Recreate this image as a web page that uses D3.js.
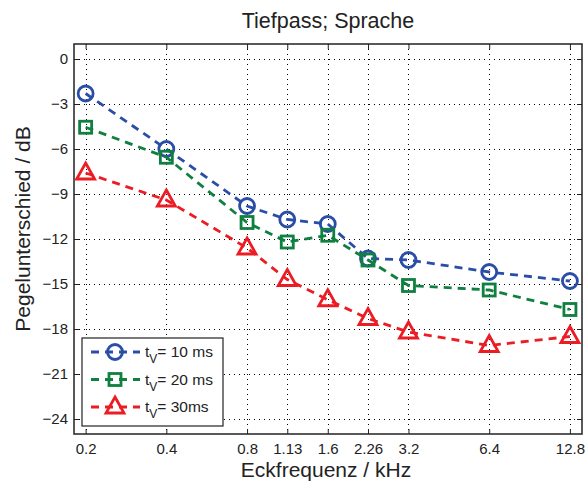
<!DOCTYPE html>
<html lang="de">
<head>
    <meta charset="UTF-8">
    <title>Tiefpass; Sprache</title>
    <script src="https://cdnjs.cloudflare.com/ajax/libs/d3/7.8.5/d3.min.js"></script>
    <style>
        body { margin: 0; background: #fff; }
        text { font-family: "Liberation Sans", Arial, sans-serif; fill: #222; }
    </style>
</head>
<body>
    <script>
        // x values (kHz) and tick labels
        var freqs = [0.2, 0.4, 0.8, 1.13, 1.6, 2.26, 3.2, 6.4, 12.8];
        var freqLabels = ["0.2", "0.4", "0.8", "1.13", "1.6", "2.26", "3.2", "6.4", "12.8"];
        var yTicks = [0, -3, -6, -9, -12, -15, -18, -21, -24];
        // series values in dB
        var t10 = [-2.3, -6.0, -9.8, -10.7, -11.0, -13.3, -13.4, -14.2, -14.8];
        var t20 = [-4.55, -6.55, -10.9, -12.2, -11.75, -13.4, -15.1, -15.4, -16.7];
        var t30 = [-7.6, -9.4, -12.6, -14.7, -16.05, -17.3, -18.2, -19.1, -18.5];
        var seriesNames = ["10 ms", "20 ms", "30ms"];

        var series = [
            {name: seriesNames[0], values: t10, color: "#2a4ea8", marker: "circle"},
            {name: seriesNames[1], values: t20, color: "#0f8040", marker: "square"},
            {name: seriesNames[2], values: t30, color: "#ec1c24", marker: "triangle"}
        ];

        var W = 587, H = 481;
        // plot box (axes area)
        var pLeft = 74, pRight = 582, pTop = 44, pBottom = 434;

        var svg = d3.select("body").append("svg")
            .attr("width", W).attr("height", H);

        var x = d3.scaleLog().domain([0.181, 14.2]).range([pLeft, pRight]);
        var y = d3.scaleLinear().domain([-25, 1]).range([pBottom, pTop]);

        // grid
        var grid = svg.append("g").attr("stroke", "#000").attr("stroke-width", 1)
            .attr("stroke-dasharray", "1,4");
        grid.selectAll(".gx").data(freqs).enter().append("line")
            .attr("x1", function(d){ return Math.round(x(d)) + 0.5; })
            .attr("x2", function(d){ return Math.round(x(d)) + 0.5; })
            .attr("y1", pTop).attr("y2", pBottom);
        grid.selectAll(".gy").data(yTicks).enter().append("line")
            .attr("y1", function(d){ return Math.round(y(d)) + 0.5; })
            .attr("y2", function(d){ return Math.round(y(d)) + 0.5; })
            .attr("x1", pLeft).attr("x2", pRight);

        // axes (ticks inward, on all sides)
        var xb = svg.append("g").attr("transform", "translate(0," + pBottom + ")")
            .call(d3.axisBottom(x).tickValues(freqs).tickSizeInner(-5).tickSizeOuter(0)
                .tickFormat(function(d, i){ return freqLabels[i]; }));
        xb.selectAll("text").attr("y", 9.5).attr("dy", "0.71em").style("font-size", "15px");
        svg.append("g").attr("transform", "translate(0," + pTop + ")")
            .call(d3.axisTop(x).tickValues(freqs).tickSizeInner(-5).tickSizeOuter(0).tickFormat(""));
        var yl = svg.append("g").attr("transform", "translate(" + pLeft + ",0)")
            .call(d3.axisLeft(y).tickValues(yTicks).tickSizeInner(-5).tickSizeOuter(0)
                .tickFormat(function(d){ return d < 0 ? "\u2212" + (-d) : d; }));
        yl.selectAll("text").attr("x", -6).style("font-size", "15px");
        svg.append("g").attr("transform", "translate(" + pRight + ",0)")
            .call(d3.axisRight(y).tickValues(yTicks).tickSizeInner(-5).tickSizeOuter(0).tickFormat(""));
        svg.selectAll(".domain").remove();
        svg.selectAll(".tick line").attr("stroke", "#222");
        svg.selectAll(".tick text").attr("fill", "#222").style("font-family", "Liberation Sans, Arial, sans-serif");

        svg.append("rect").attr("x", pLeft).attr("y", pTop)
            .attr("width", pRight - pLeft).attr("height", pBottom - pTop)
            .attr("fill", "none").attr("stroke", "#222").attr("stroke-width", 1.5);

        // markers
        function drawMarker(g, type, color) {
            if (type === "circle") {
                g.append("circle").attr("r", 7.5);
            } else if (type === "square") {
                g.append("rect").attr("x", -6).attr("y", -6).attr("width", 12).attr("height", 12);
            } else {
                g.append("path").attr("d", "M0,-10L9,6L-9,6Z");
            }
            g.selectAll("*").attr("fill", "none").attr("stroke", color).attr("stroke-width", 2.8);
        }

        var line = d3.line()
            .x(function(d, i){ return x(freqs[i]); })
            .y(function(d){ return y(d); });

        series.forEach(function(s){
            svg.append("path").datum(s.values)
                .attr("d", line)
                .attr("fill", "none").attr("stroke", s.color)
                .attr("stroke-width", 2.8).attr("stroke-dasharray", "8,6");
            s.values.forEach(function(v, i){
                var g = svg.append("g")
                    .attr("transform", "translate(" + x(freqs[i]) + "," + y(v) + ")");
                drawMarker(g, s.marker, s.color);
            });
        });

        // legend
        var lg = svg.append("g");
        lg.append("rect").attr("x", 82).attr("y", 338).attr("width", 141).attr("height", 88)
            .attr("fill", "#fff").attr("stroke", "#222").attr("stroke-width", 1.2);
        series.forEach(function(s, i){
            var ly = 352 + i * 27.5;
            lg.append("line").attr("x1", 90).attr("x2", 140).attr("y1", ly).attr("y2", ly)
                .attr("stroke", s.color).attr("stroke-width", 2.8).attr("stroke-dasharray", "8,6")
                .attr("stroke-dashoffset", -1);
            var g = lg.append("g").attr("transform", "translate(115," + ly + ")");
            drawMarker(g, s.marker, s.color);
            var t = lg.append("text").attr("x", 145).attr("y", ly + 5).style("font-size", "15.5px");
            t.append("tspan").text("t");
            t.append("tspan").attr("dy", 6).style("font-size", "12px").text("V");
            t.append("tspan").attr("dy", -6).text("= " + s.name);
        });

        // title and axis labels
        svg.append("text").attr("x", 328).attr("y", 28).attr("text-anchor", "middle")
            .style("font-size", "21.5px").text("Tiefpass; Sprache");
        svg.append("text").attr("x", 326).attr("y", 476.5).attr("text-anchor", "middle")
            .style("font-size", "21px").text("Eckfrequenz / kHz");
        svg.append("text").attr("transform", "translate(30,229) rotate(-90)")
            .attr("text-anchor", "middle").style("font-size", "21px").text("Pegelunterschied / dB");
    </script>
</body>
</html>
